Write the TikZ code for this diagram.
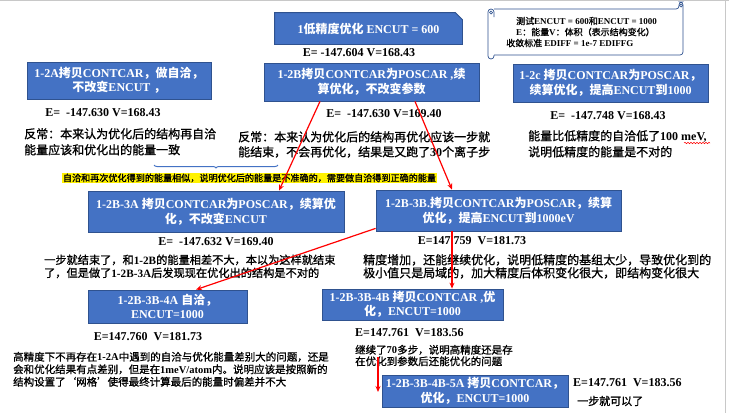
\documentclass[tikz,border=0pt]{standalone}
\usepackage{fontspec}
\setmainfont{Liberation Serif}
\newfontfamily\cjkfam[NFSSFamily=cjkf]{Noto Sans CJK SC}
\newfontfamily\cjkmed[NFSSFamily=cjkm, BoldFont={Noto Sans CJK SC}, BoldFeatures={FakeBold=1}]{Noto Sans CJK SC}
\usetikzlibrary{arrows.meta,backgrounds,decorations.pathreplacing,decorations.pathmorphing}
\def\cjkcur{cjkf}
\makeatletter
\newXeTeXintercharclass\cjkcls
\count@="4E00 \loop \XeTeXcharclass\count@=\cjkcls \ifnum\count@<"9FFF \advance\count@\@ne \repeat
\count@="3000 \loop \XeTeXcharclass\count@=\cjkcls \ifnum\count@<"303F \advance\count@\@ne \repeat
\count@="FF00 \loop \XeTeXcharclass\count@=\cjkcls \ifnum\count@<"FFEF \advance\count@\@ne \repeat
\XeTeXcharclass"2018=\cjkcls
\XeTeXcharclass"2019=\cjkcls
\XeTeXinterchartoks 0 \cjkcls = {\fontfamily{\cjkcur}\selectfont}
\XeTeXinterchartoks 4095 \cjkcls = {\fontfamily{\cjkcur}\selectfont}
\XeTeXinterchartoks \cjkcls 0 = {\fontfamily{\rmdefault}\selectfont}
\XeTeXinterchartoks \cjkcls 4095 = {\fontfamily{\rmdefault}\selectfont}
\makeatother
\XeTeXinterchartokenstate=1
\definecolor{boxfill}{HTML}{4472C4}
\definecolor{boxedge}{HTML}{2F528F}
\definecolor{framegray}{HTML}{C8C8C8}
\tikzset{
  box/.style={draw=boxedge, fill=boxfill, line width=0.8pt, text=white, align=center, inner sep=0pt,
    font=\bfseries\fontsize{12}{14.5}\selectfont},
  val/.style={inner sep=0pt, font=\bfseries\fontsize{12}{14}\selectfont},
  note/.style={inner sep=0pt, align=left, anchor=north west},
  redarr/.style={draw=red, line width=1.2pt, -{Stealth[length=6pt,width=5pt]}},
  scroll/.style={draw=boxedge, line width=0.7pt},
}
\newcommand\notefont[2]{\def\cjkcur{cjkm}\bfseries\fontsize{#1}{#2}\selectfont}
\begin{document}
\begin{tikzpicture}[x=1pt,y=-1pt]
\useasboundingbox (0,0) rectangle (729,413);
\begin{scope}[on background layer]
  \fill[white] (0,0) rectangle (729,413);
\end{scope}
\draw[framegray, line width=1pt] (0,0.5) -- (729,0.5);
\draw[framegray, line width=1pt] (725.5,0) -- (725.5,413);

% top box
\node[box, draw=none, fill=none, minimum width=187pt, minimum height=31pt] (b1) at (368.5,28.5) {1低精度优化 ENCUT = 600};
\begin{scope}[on background layer]
  \filldraw[fill=boxfill, draw=boxedge, line width=0.8pt] (b1.south west) -- (b1.north west) -- ([xshift=-7pt]b1.north east) -- ([yshift=-7pt]b1.north east) -- (b1.south east) -- cycle;
\end{scope}
\node[val] (e1) at (359,53) {E= -147.604 V=168.43};

% scroll
\fill[white] (488,2) rectangle (683,59);
\draw[scroll, rounded corners=3pt] (494,9) -- (679,9) -- (679,2) -- (683,2) -- (683,55) -- (494,55);
\draw[scroll, rounded corners=3pt] (494,55) -- (494,59) -- (488,59) -- (488,9) -- (494,9) -- (494,17);
\draw[scroll] (681,5.5) circle (1.5pt);
\draw[scroll] (491,12.5) circle (1.5pt);
\node[inner sep=0pt, anchor=west, font=\notefont{9}{11}] (s1) at (516,21) {测试ENCUT = 600和ENCUT = 1000};
\node[inner sep=0pt, anchor=west, font=\notefont{9}{11}] (s2) at (516,32) {E：能量V：体积（表示结构变化）};
\node[inner sep=0pt, anchor=west, font=\notefont{9}{11}] (s3) at (506,43) {收敛标准 EDIFF = 1e-7 EDIFFG};

% second row
\node[box, minimum width=184pt, minimum height=37pt] (bA) at (119,80.5) {1-2A拷贝CONTCAR，做自洽，\\不改变ENCUT ，};
\node[box, minimum width=215pt, minimum height=38pt] (bB) at (371.5,82) {1-2B拷贝CONTCAR为POSCAR ,续\\算优化，不改变参数};
\node[box, minimum width=195pt, minimum height=38pt] (bC) at (610.5,83) {1-2c 拷贝CONTCAR为POSCAR，\\续算优化，提高ENCUT到1000};
\node[val] (eA) at (103,113) {E= \ -147.630 V=168.43};
\node[val] (eB) at (384,114) {E= \ -147.630 V=169.40};
\node[val] (eC) at (608,116) {E= \ -147.748 V=168.43};
\node[note, font=\notefont{12}{16}] (cA) at (24,128) {反常：本来认为优化后的结构再自洽\\能量应该和优化出的能量一致};
\node[note, font=\notefont{12}{15}] (cB) at (238,131) {反常：本来认为优化后的结构再优化应该一步就\\能结束，不会再优化，结果是又跑了30个离子步};
\node[note, font=\notefont{12}{16}] (cC) at (528,130) {能量比低精度的自洽低了100 meV,\\说明低精度的能量是不对的};
\draw[red, line width=0.5pt, decorate, decoration={snake, amplitude=0.7pt, segment length=3pt}] (684,143) -- (710,143);

% brace and yellow note
\draw[boxfill, line width=1pt, decorate, decoration={brace, mirror, amplitude=3pt}] (154,165) -- (278,165);
\node[fill=yellow, inner sep=0.6pt, font=\notefont{9.1}{10}] (yn) at (249.5,178) {自洽和再次优化得到的能量相似，说明优化后的能量是不准确的，需要做自洽得到正确的能量};

% third row
\node[box, minimum width=256pt, minimum height=41pt] (b3A) at (216,211.5) {1-2B-3A 拷贝CONTCAR为POSCAR，续算优\\化，不改变ENCUT};
\node[box, minimum width=245pt, minimum height=41pt] (b3B) at (498.5,210.5) {1-2B-3B.拷贝CONTCAR为POSCAR，续算\\优化，提高ENCUT到1000eV};
\node[val] (e3A) at (216,242) {E= \ -147.632 V=169.40};
\node[val] (e3B) at (472,241) {E=147.759 \ V=181.73};
\node[note, font=\notefont{11.2}{13}] (c3A) at (44,254.4) {一步就结束了，和1-2B的能量相差不大，本以为这样就结束\\了，但是做了1-2B-3A后发现现在优化出的结构是不对的};
\node[note, font=\notefont{12}{13}] (c3B) at (363,254) {精度增加，还能继续优化，说明低精度的基组太少，导致优化到的\\极小值只是局域的，加大精度后体积变化很大，即结构变化很大};

% fourth row
\node[box, minimum width=159pt, minimum height=33pt] (b4A) at (167.5,306.5) {1-2B-3B-4A 自洽，\\ENCUT=1000};
\node[box, minimum width=181pt, minimum height=31pt] (b4B) at (412.5,304.5) {1-2B-3B-4B 拷贝CONTCAR ,优\\化，ENCUT=1000};
\node[val] (e4A) at (148,337) {E=147.760 \ V=181.73};
\node[val, anchor=west] (e4B) at (355,333) {E=147.761 \ V=183.56};
\node[note, font=\notefont{10.5}{12.5}] (c4A) at (13,351.7) {高精度下不再存在1-2A中遇到的自洽与优化能量差别大的问题，还是\\会和优化结果有点差别，但是在1meV/atom内。说明应该是按照新的\\结构设置了‘网格’使得最终计算最后的能量时偏差并不大};
\node[note, font=\notefont{10.5}{11.5}] (c4B) at (355,344.7) {继续了70多步，说明高精度还是存\\在优化到参数后还能优化的问题};

% fifth row
\node[box, minimum width=186pt, minimum height=32pt] (b5A) at (475,391) {1-2B-3B-4B-5A 拷贝CONTCAR，\\优化，ENCUT=1000};
\node[val, anchor=west] (e5A) at (573,383) {E=147.761 \ V=183.56};
\node[inner sep=0pt, anchor=west, font=\notefont{11}{13}] (c5A) at (577,401) {一步就可以了};

% arrows
\coordinate (a5s) at (378,357);
\coordinate (a5e) at (378,392);
\draw[redarr] ([xshift=-51.5pt]bB.south) -- ([xshift=63pt]b3A.north);
\draw[redarr] ([xshift=43.5pt]bB.south) -- ([xshift=-46.5pt]b3B.north);
\draw[redarr] ([yshift=3pt]b3B.south west) -- ([xshift=28.5pt]b4A.north);
\draw[redarr] ([xshift=-46.5pt]b3B.south) -- ([xshift=-46.5pt]b3B.south |- b4B.north);
\draw[redarr] (a5s) -- (a5e);
\end{tikzpicture}
\end{document}
